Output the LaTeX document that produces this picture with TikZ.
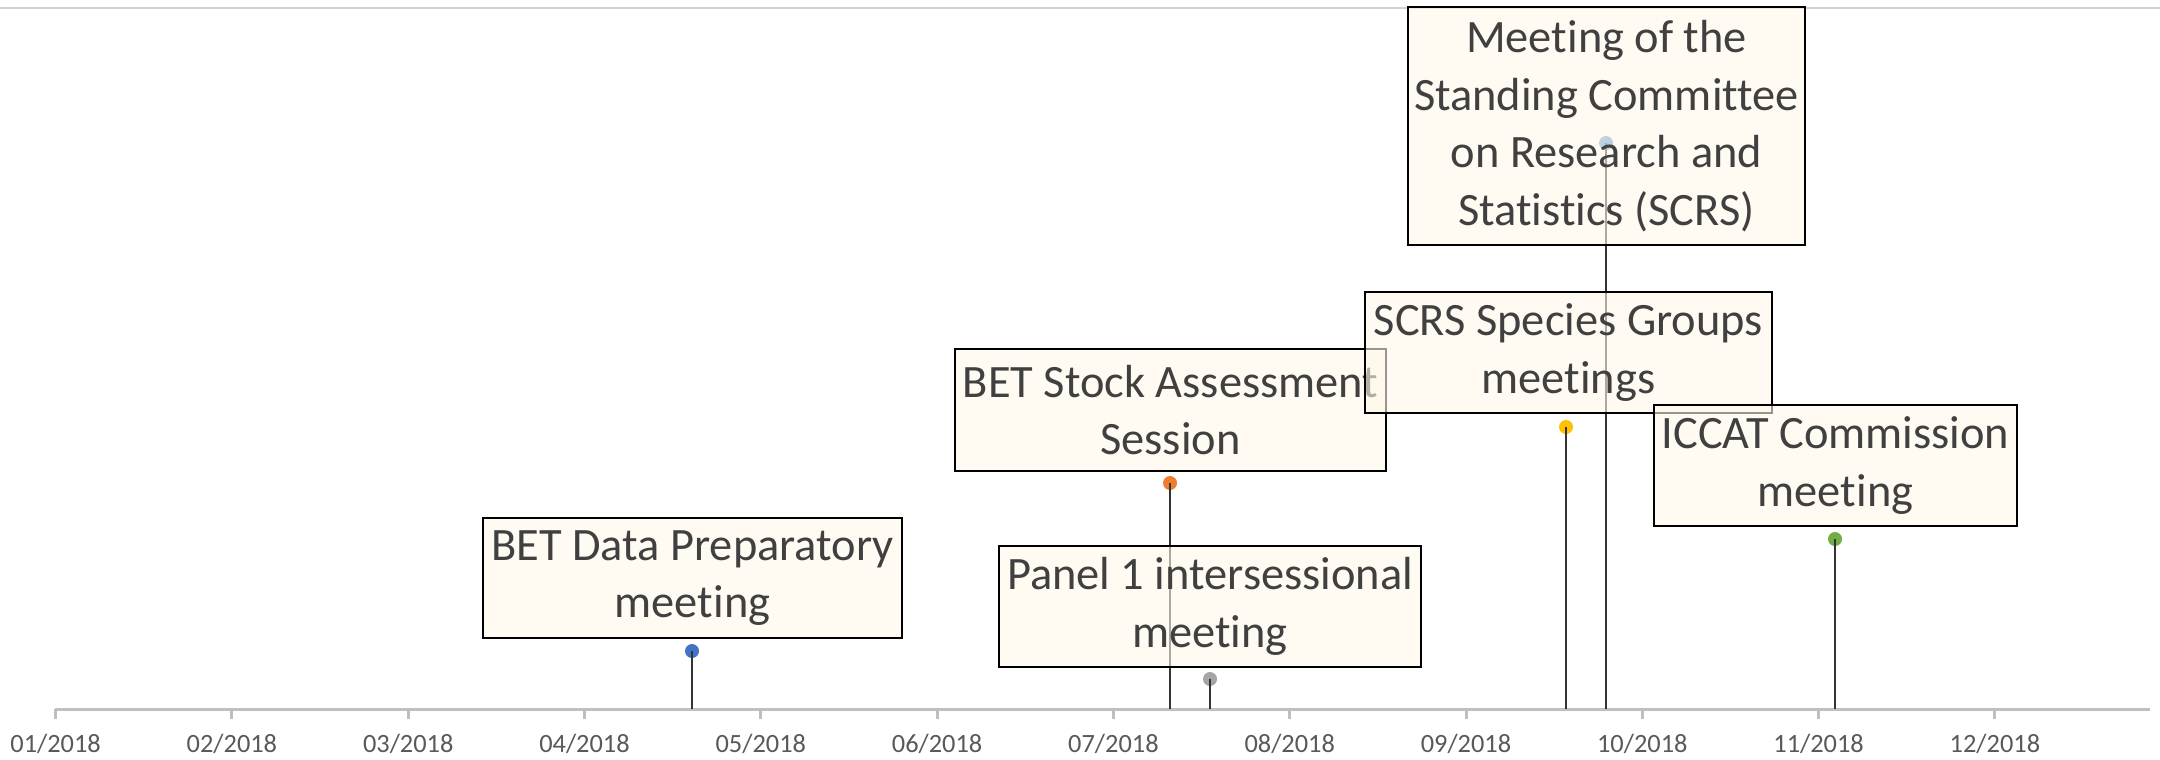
\documentclass[tikz,border=0pt]{standalone}
\usepackage{fontspec}
\setmainfont{Carlito}[RawFeature={-liga;-clig;-calt;-dlig}]
\usepackage{xcolor}
\definecolor{boxfill}{HTML}{FFF8EA}
\definecolor{txtgray}{HTML}{404040}
\definecolor{axgray}{HTML}{BFBFBF}
\definecolor{lblgray}{HTML}{595959}
\definecolor{dotblue}{HTML}{4472C4}
\definecolor{dotorange}{HTML}{ED7D31}
\definecolor{dotgray}{HTML}{A5A5A5}
\definecolor{dotgold}{HTML}{FFC000}
\definecolor{dotlight}{HTML}{5B9BD5}
\definecolor{dotgreen}{HTML}{70AD47}
\tikzset{
  event box/.style = {draw=black, line width=0.75pt, fill=boxfill, fill opacity=0.6,
    text opacity=1, text=txtgray, align=center, inner sep=0pt,
    font=\fontsize{13.2}{16.4}\selectfont,
    execute at begin node={\rule{0pt}{15.2pt}}},
  event dot/.style = {circle, fill=#1, inner sep=0pt, minimum size=0.14cm},
  stem/.style = {draw=black!80, line width=0.45pt},
}
\begin{document}
\begin{tikzpicture}[x=0.01cm,y=-0.01cm]
    \useasboundingbox (0,0) rectangle (2160,759);
    \draw[axgray!70, line width=0.4pt] (0,8) -- (2160,8);
    % time axis
    \coordinate (axL) at (55,709);
    \coordinate (axR) at (2150,709);
    \draw[axgray, line width=0.85pt] (axL) -- (axR);
    \foreach \m [count=\i from 0] in {01,02,03,04,05,06,07,08,09,10,11,12}{
        \draw[axgray, line width=0.85pt] (55.6+176.3*\i,709) -- ++(0,10);
        \node[text=lblgray, font=\fontsize{7.5}{9}\selectfont] (lbl\m) at (55.6+176.3*\i,744) {\m/2018};
    }
    % markers and stems
    \node[event dot=dotblue]   (m1) at (692,651) {};
    \node[event dot=dotorange] (m2) at (1170,483) {};
    \node[event dot=dotgray]   (m3) at (1210,679) {};
    \node[event dot=dotgold]   (m4) at (1566,427) {};
    \node[event dot=dotlight]  (m5) at (1606,143) {};
    \node[event dot=dotgreen]  (m6) at (1835,539) {};
    \foreach \d in {m1,m2,m3,m4,m5,m6}
        \draw[stem] (\d.center) -- (\d.center |- axL);
    % boxes
    \node[event box, minimum width=4.19cm, minimum height=1.20cm] (dataprep) at (692.5,578) {BET Data Preparatory\\meeting};
    \node[event box, minimum width=4.22cm, minimum height=1.21cm] (panel) at (1210,606.5) {Panel 1 intersessional\\meeting};
    \node[event box, minimum width=4.31cm, minimum height=1.22cm] (assess) at (1170.5,410) {BET Stock Assessment\\Session};
    \node[event box, minimum width=4.07cm, minimum height=1.21cm] (groups) at (1568.5,352.5) {SCRS Species Groups\\meetings};
    \node[event box, minimum width=3.63cm, minimum height=1.21cm] (comm) at (1835.5,465.5) {ICCAT Commission\\meeting};
    \node[event box, minimum width=3.97cm, minimum height=2.38cm] (scrs) at (1606.5,126) {Meeting of the\\Standing Committee\\on Research and\\Statistics (SCRS)};
\end{tikzpicture}
\end{document}
